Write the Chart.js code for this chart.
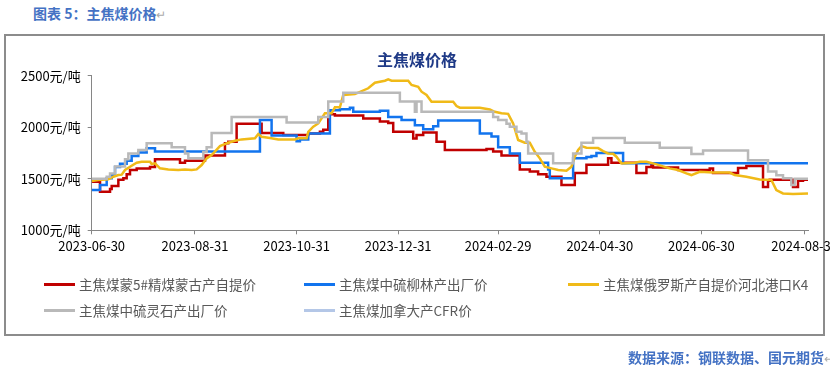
<!DOCTYPE html>
<html>
<head>
<meta charset="utf-8">
<script src="https://cdn.jsdelivr.net/npm/chart.js@4.4.1/dist/chart.umd.min.js"></script>
<style>
  body { margin: 0; width: 830px; height: 375px; overflow: hidden; background: #fff; position: relative; font-family: 'Noto Sans CJK SC', sans-serif; }
  #caption { position: absolute; left: 33px; top: 3px; font-size: 14px; line-height: 20px; font-weight: bold; color: #4472C4; }
  #caption i, #source i { font-style: normal; font-weight: normal; color: #aaa; font-size: 12px; }
  #frame { position: absolute; left: 4px; top: 34px; width: 817px; height: 298px; border: 2px solid #8c8c8c; }
  #chart { position: absolute; left: 0; top: 0; }
  #legend { position: absolute; left: 44px; top: 271px; display: grid; grid-template-columns: 260px 264px auto; grid-auto-rows: 26px; }
  .item { display: flex; align-items: center; font-size: 13.5px; color: #595959; white-space: nowrap; }
  .item span { display: inline-block; width: 31px; height: 3px; margin-right: 4px; }
  #source { position: absolute; left: 628px; top: 347px; font-size: 14px; line-height: 20px; font-weight: bold; color: #4472C4; white-space: nowrap; }
</style>
</head>
<body>
<div id="caption">图表 5：主焦煤价格<i>↵</i></div>
<div id="frame"></div>
<canvas id="chart" width="830" height="375"></canvas>
<div id="legend"></div>
<div id="source">数据来源：钢联数据、国元期货<i>↵</i></div>
<script>
const startDate = '2023-06-30';
const endDate = '2024-09-02';
const tickLabels = ['2023-06-30', '2023-08-31', '2023-10-31', '2023-12-31', '2024-02-29', '2024-04-30', '2024-06-30', '2024-08-31'];
const seriesNames = ['主焦煤蒙5#精煤蒙古产自提价', '主焦煤中硫柳林产出厂价', '主焦煤俄罗斯产自提价河北港口K4', '主焦煤中硫灵石产出厂价', '主焦煤加拿大产CFR价'];

// 蒙5#精煤
const mongolDates = ['2023-06-30', '2023-07-05', '2023-07-11', '2023-07-12', '2023-07-16', '2023-07-19', '2023-07-21', '2023-07-23', '2023-07-27', '2023-08-04',
  '2023-08-07', '2023-08-22', '2023-08-25', '2023-09-06', '2023-09-18', '2023-09-20', '2023-09-25', '2023-10-10', '2023-10-23', '2023-11-07',
  '2023-11-14', '2023-11-16', '2023-11-19', '2023-11-23', '2023-12-10', '2023-12-20', '2023-12-25', '2023-12-28', '2024-01-09', '2024-01-11',
  '2024-01-15', '2024-01-23', '2024-01-28', '2024-02-22', '2024-02-26', '2024-03-02', '2024-03-13', '2024-03-19', '2024-03-24', '2024-03-29',
  '2024-04-07', '2024-04-15', '2024-04-22', '2024-05-05', '2024-05-07', '2024-05-22', '2024-05-28', '2024-05-31', '2024-06-01', '2024-06-16',
  '2024-07-05', '2024-07-07', '2024-07-22', '2024-07-27', '2024-08-06', '2024-08-09', '2024-08-10', '2024-08-24', '2024-08-27', '2024-08-30', '2024-09-02'];
const mongolValues = [1470, 1375, 1400, 1430, 1490, 1505, 1545, 1585, 1600, 1615,
  1690, 1655, 1675, 1725, 1845, 1860, 2035, 1945, 1925, 1940,
  1955, 1975, 2125, 2115, 2085, 2055, 2040, 1955, 1890, 1925,
  1950, 1860, 1780, 1790, 1765, 1725, 1590, 1570, 1545, 1520,
  1440, 1555, 1635, 1700, 1655, 1555, 1615, 1635, 1610, 1585,
  1600, 1555, 1605, 1625, 1420, 1480, 1490, 1420, 1480, 1490, 1490];

// 中硫柳林
const liulinDates = ['2023-06-30', '2023-07-05', '2023-07-09', '2023-07-12', '2023-07-14', '2023-07-17', '2023-07-21', '2023-07-24', '2023-07-28', '2023-08-02',
  '2023-08-07', '2023-10-09', '2023-10-16', '2023-10-31', '2023-11-02', '2023-11-07', '2023-11-20', '2023-11-26', '2023-12-02', '2023-12-04',
  '2023-12-20', '2023-12-25', '2024-01-02', '2024-01-10', '2024-01-15', '2024-01-21', '2024-01-24', '2024-02-18', '2024-02-25', '2024-02-29',
  '2024-03-07', '2024-03-13', '2024-03-30', '2024-03-31', '2024-04-14', '2024-04-22', '2024-04-25', '2024-04-28', '2024-05-14', '2024-09-02'];
const liulinValues = [1390, 1440, 1505, 1535, 1615, 1645, 1675, 1720, 1755, 1795,
  1765, 2070, 1920, 1865, 1880, 1940, 2165, 2175, 2190, 2150,
  2160, 2100, 2070, 2020, 1980, 2010, 2065, 1940, 1910, 1805,
  1745, 1655, 1590, 1505, 1700, 1710, 1720, 1750, 1650, 1650];

// 俄罗斯K4
const russiaDates = ['2023-06-30', '2023-07-04', '2023-07-10', '2023-07-13', '2023-07-16', '2023-07-18', '2023-07-20', '2023-07-23', '2023-07-27', '2023-07-30',
  '2023-08-04', '2023-08-05', '2023-08-07', '2023-08-10', '2023-08-15', '2023-08-21', '2023-08-25', '2023-08-29', '2023-09-01', '2023-09-04',
  '2023-09-07', '2023-09-10', '2023-09-15', '2023-09-20', '2023-09-24', '2023-09-28', '2023-10-06', '2023-10-08', '2023-10-10', '2023-10-15',
  '2023-10-20', '2023-10-30', '2023-11-01', '2023-11-06', '2023-11-07', '2023-11-10', '2023-11-13', '2023-11-15', '2023-11-17', '2023-11-21',
  '2023-11-23', '2023-11-26', '2023-11-28', '2023-12-05', '2023-12-13', '2023-12-17', '2023-12-23', '2023-12-25', '2023-12-27', '2024-01-06',
  '2024-01-08', '2024-01-12', '2024-01-14', '2024-01-17', '2024-01-20', '2024-02-02', '2024-02-04', '2024-02-06', '2024-02-18', '2024-02-24',
  '2024-02-27', '2024-03-02', '2024-03-06', '2024-03-09', '2024-03-12', '2024-03-16', '2024-03-19', '2024-03-22', '2024-03-25', '2024-03-28',
  '2024-04-01', '2024-04-05', '2024-04-10', '2024-04-13', '2024-04-15', '2024-04-17', '2024-04-19', '2024-04-22', '2024-04-29', '2024-05-02',
  '2024-05-05', '2024-05-08', '2024-05-10', '2024-05-13', '2024-05-21', '2024-05-24', '2024-05-28', '2024-06-01', '2024-06-11', '2024-06-16',
  '2024-06-21', '2024-06-24', '2024-06-29', '2024-07-07', '2024-07-17', '2024-07-20', '2024-07-27', '2024-08-04', '2024-08-11', '2024-08-14',
  '2024-08-18', '2024-08-24', '2024-09-02'];
const russiaValues = [1478, 1488, 1494, 1520, 1536, 1540, 1585, 1617, 1655, 1665,
  1665, 1643, 1650, 1601, 1591, 1585, 1591, 1585, 1591, 1633,
  1698, 1730, 1817, 1850, 1869, 1882, 1892, 1934, 1908, 1895,
  1882, 1882, 1892, 1892, 1956, 2005, 2037, 2086, 2135, 2135,
  2193, 2193, 2313, 2322, 2378, 2432, 2451, 2464, 2451, 2451,
  2410, 2393, 2345, 2313, 2248, 2248, 2206, 2190, 2190, 2173,
  2150, 2135, 2130, 2037, 1876, 1850, 1850, 1762, 1698, 1617,
  1601, 1585, 1578, 1617, 1714, 1779, 1817, 1801, 1798, 1769,
  1746, 1742, 1714, 1649, 1655, 1665, 1665, 1649, 1601, 1585,
  1552, 1536, 1568, 1560, 1560, 1536, 1520, 1494, 1488, 1391,
  1358, 1352, 1358];

// 中硫灵石
const lingshiDates = ['2023-06-30', '2023-07-09', '2023-07-11', '2023-07-14', '2023-07-20', '2023-07-22', '2023-07-28', '2023-08-02', '2023-08-17', '2023-08-25',
  '2023-08-27', '2023-09-05', '2023-09-07', '2023-09-10', '2023-09-22', '2023-10-25', '2023-11-13', '2023-11-19', '2023-11-28', '2024-01-01',
  '2024-01-10', '2024-01-11', '2024-01-14', '2024-02-26', '2024-02-29', '2024-03-05', '2024-03-07', '2024-03-11', '2024-03-14', '2024-03-17',
  '2024-03-18', '2024-04-02', '2024-04-14', '2024-04-19', '2024-04-26', '2024-05-15', '2024-06-05', '2024-06-24', '2024-07-01', '2024-07-28',
  '2024-08-09', '2024-08-14', '2024-08-18', '2024-08-23', '2024-08-25', '2024-09-02'];
const lingshiValues = [1500, 1520, 1550, 1620, 1690, 1745, 1780, 1845, 1805, 1745,
  1700, 1760, 1805, 1945, 2100, 2045, 2100, 2250, 2335, 2250,
  2150, 2250, 2150, 2100, 2070, 2035, 2005, 1955, 1940, 1860,
  1745, 1650, 1745, 1850, 1895, 1850, 1800, 1740, 1775, 1680,
  1570, 1535, 1505, 1440, 1500, 1500];

// 加拿大CFR: no values shown in the chart
const canadaDates = [];
const canadaValues = [];

const dayOf = s => (Date.parse(s) - Date.parse(startDate)) / 86400000;
const points = (dates, values) => dates.map((d, i) => ({ x: dayOf(d), y: values[i] }));

const font = { family: "'Noto Sans CJK SC', sans-serif", size: 13 };
const axisColor = '#868686';

function line(label, data, color, stepped, order) {
  return { label, data, borderColor: color, backgroundColor: color, borderWidth: 2.5, pointRadius: 0, stepped, order, tension: 0 };
}

const chart = new Chart(document.getElementById('chart'), {
  type: 'line',
  data: {
    datasets: [
      line(seriesNames[0], points(mongolDates, mongolValues), '#C00000', true, 4),
      line(seriesNames[1], points(liulinDates, liulinValues), '#1274EE', true, 3),
      line(seriesNames[2], points(russiaDates, russiaValues), '#F0BA18', false, 2),
      line(seriesNames[3], points(lingshiDates, lingshiValues), '#B9B9B9', true, 1),
      line(seriesNames[4], points(canadaDates, canadaValues), '#B4C7E7', false, 0)
    ]
  },
  options: {
    responsive: false,
    animation: false,
    layout: { padding: { left: 17, right: 13, top: 50.5, bottom: 114.7 } },
    plugins: {
      legend: { display: false },
      tooltip: { enabled: false },
      title: {
        display: true,
        text: '主焦煤价格',
        color: '#1F3A87',
        font: { family: font.family, size: 16, weight: 'bold' },
        padding: { top: 0, bottom: 6 }
      }
    },
    scales: {
      x: {
        type: 'linear',
        min: 0,
        max: dayOf(endDate),
        afterBuildTicks: s => { s.ticks = tickLabels.map(t => ({ value: dayOf(t) })); },
        // plot ends at x=808; last tick label runs off the page edge as in the source
        afterFit: s => { s.paddingLeft = 0; s.paddingRight = 22; s.height = 30; },
        ticks: {
          autoSkip: false,
          maxRotation: 0,
          padding: 4,
          color: '#000',
          font,
          callback: v => tickLabels.find(t => dayOf(t) === v) || ''
        },
        grid: { drawOnChartArea: false, tickLength: 4, color: axisColor },
        border: { color: axisColor }
      },
      y: {
        min: 1000,
        max: 2500,
        afterFit: s => { s.width = 74.7; },
        ticks: { stepSize: 500, padding: 7, color: '#000', font, callback: v => v + '元/吨' },
        grid: { drawOnChartArea: false, tickLength: 4, color: axisColor },
        border: { color: axisColor }
      }
    }
  }
});

// legend laid out in columns like the source sheet
const legend = document.getElementById('legend');
chart.data.datasets.forEach(ds => {
  const item = document.createElement('div');
  item.className = 'item';
  item.innerHTML = '<span style="background:' + ds.borderColor + '"></span>' + ds.label;
  legend.appendChild(item);
});
</script>
</body>
</html>
